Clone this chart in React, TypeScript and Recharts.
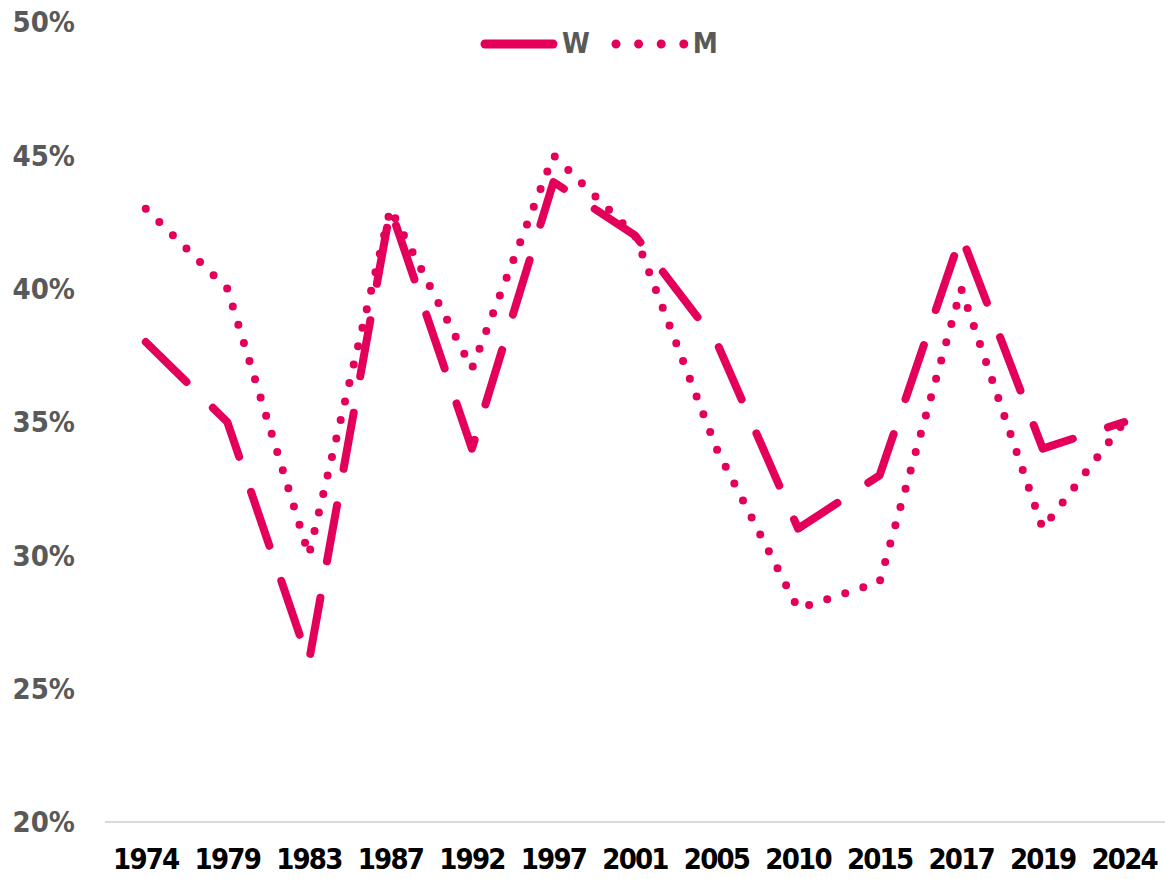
import { LineChart, Line, XAxis, YAxis, Legend } from "recharts";

const PINK = "#E4005A";
const FONT = '"DejaVu Sans Condensed", "Liberation Sans Narrow", "Liberation Sans", sans-serif';

const years = ["1974", "1979", "1983", "1987", "1992", "1997", "2001", "2005", "2010", "2015", "2017", "2019", "2024"];
const women = [38, 35, 26, 43, 34, 44, 42, 38, 31, 33, 42, 34, 35];
const men = [43, 40, 30, 43, 37, 45, 42, 34, 28, 29, 40, 31, 35];
const yTicks = [20, 25, 30, 35, 40, 45, 50];
const legendOrder = ["W", "M"];

const data = years.map((year, i) => ({ year, W: women[i], M: men[i] }));

function LegendContent({ payload }: any) {
  const items = [...(payload || [])].sort(
    (a: any, b: any) => legendOrder.indexOf(a.dataKey) - legendOrder.indexOf(b.dataKey)
  );
  return (
    <div style={{ display: "flex", alignItems: "center", fontFamily: FONT, fontWeight: 700, fontSize: 28, color: "#595959" }}>
      {items.map((p: any) => (
        <div key={p.value} style={{ display: "flex", alignItems: "center", marginRight: 22 }}>
          <svg width={78} height={14}>
            {p.dataKey === "W" ? (
              <line x1={5} y1={7} x2={73} y2={7} stroke={PINK} strokeWidth={9} strokeLinecap="round" />
            ) : (
              <line x1={5} y1={7} x2={73} y2={7} stroke={PINK} strokeWidth={9} strokeLinecap="round" strokeDasharray="0 22.6" />
            )}
          </svg>
          <span style={{ marginLeft: 4, letterSpacing: -1 }}>{p.value}</span>
        </div>
      ))}
    </div>
  );
}

export default function App() {
  return (
    <div style={{ position: "absolute", left: 0, top: 0, background: "#fff" }}>
      <LineChart width={1165} height={879} data={data} margin={{ top: 22, right: 0, bottom: 0, left: 0 }}>
        <XAxis
          dataKey="year"
          scale="band"
          height={57}
          tickSize={0}
          tickMargin={26}
          tickLine={false}
          axisLine={{ stroke: "#d9d9d9", strokeWidth: 2 }}
          tick={{ fontFamily: FONT, fontWeight: 700, fontSize: 29, fill: "#000", letterSpacing: -1.8 }}
          interval={0}
        />
        <YAxis
          width={105}
          domain={[20, 50]}
          ticks={yTicks}
          tickFormatter={(v) => `${v}%`}
          tickSize={0}
          tickMargin={30}
          tickLine={false}
          axisLine={false}
          tick={{ fontFamily: FONT, fontWeight: 700, fontSize: 29, fill: "#595959" }}
        />
        <Legend
          verticalAlign="middle"
          content={<LegendContent />}
          wrapperStyle={{ top: 27, left: 480, width: "auto" }}
        />
        <Line
          dataKey="W"
          name="W"
          type="linear"
          stroke={PINK}
          strokeWidth={8}
          strokeLinecap="round"
          strokeLinejoin="round"
          strokeDasharray="57 37"
          dot={false}
          activeDot={false}
          isAnimationActive={false}
        />
        <Line
          dataKey="M"
          name="M"
          type="linear"
          stroke={PINK}
          strokeWidth={8}
          strokeLinecap="round"
          strokeLinejoin="round"
          strokeDasharray="0 19"
          dot={false}
          activeDot={false}
          isAnimationActive={false}
        />
      </LineChart>
    </div>
  );
}
